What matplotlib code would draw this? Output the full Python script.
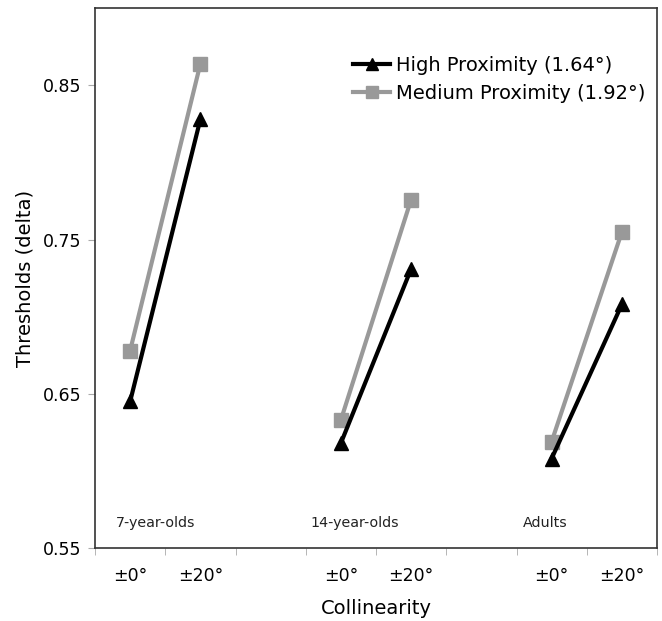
import numpy as np
import matplotlib
matplotlib.use("Agg")
import matplotlib.pyplot as plt

plt.rcParams["font.family"] = ["DejaVu Sans"]

x_labels = ["±0°", "±20°", "", "±0°", "±20°", "", "±0°", "±20°"]
high = [0.645, 0.828, np.nan, 0.618, 0.731, np.nan, 0.608, 0.708]
medium = [0.678, 0.864, np.nan, 0.633, 0.776, np.nan, 0.619, 0.755]
groups = ["7-year-olds", "14-year-olds", "Adults"]
group_x = [-0.2, 2.57, 5.59]

x = np.arange(len(x_labels))

fig = plt.figure(figsize=(6.62, 6.21), dpi=100)
ax = fig.add_axes([0.1435, 0.1176, 0.849, 0.869])

ax.plot(x, medium, color="#999999", lw=3, marker="s", ms=10,
        label="Medium Proximity (1.92°)", zorder=2)
ax.plot(x, high, color="black", lw=3, marker="^", ms=10,
        label="High Proximity (1.64°)", zorder=3)

for g, gx in zip(groups, group_x):
    ax.text(gx, 0.566, g, fontsize=10.3, color="#222222", ha="left", va="center")

ax.set_xlim(-0.5, len(x_labels) - 0.5)
ax.set_ylim(0.55, 0.90)
ax.set_yticks([0.55, 0.65, 0.75, 0.85])
ax.set_yticklabels(["0.55", "0.65", "0.75", "0.85"])
ax.set_xticks(x)
ax.set_xticklabels(x_labels)
ax.set_xticks(np.arange(-0.5, len(x_labels)), minor=True)
ax.tick_params(axis="x", which="major", length=0, pad=14, labelsize=12.5)
ax.tick_params(axis="x", which="minor", length=5, color="#aaaaaa")
ax.tick_params(axis="y", length=5, color="#aaaaaa", labelsize=12.5, pad=5)

for s in ax.spines.values():
    s.set_color("#333333")
    s.set_linewidth(1.2)

ax.set_xlabel("Collinearity", fontsize=14, labelpad=10)
ax.set_ylabel("Thresholds (delta)", fontsize=14, labelpad=6)

h, l = ax.get_legend_handles_labels()
ax.legend(h[::-1], l[::-1], loc="upper left", bbox_to_anchor=(0.428, 0.945),
          frameon=False, fontsize=14, handlelength=1.9, handletextpad=0.3,
          labelspacing=0.5, markerscale=0.8)

fig.savefig("out.png", dpi=100)
